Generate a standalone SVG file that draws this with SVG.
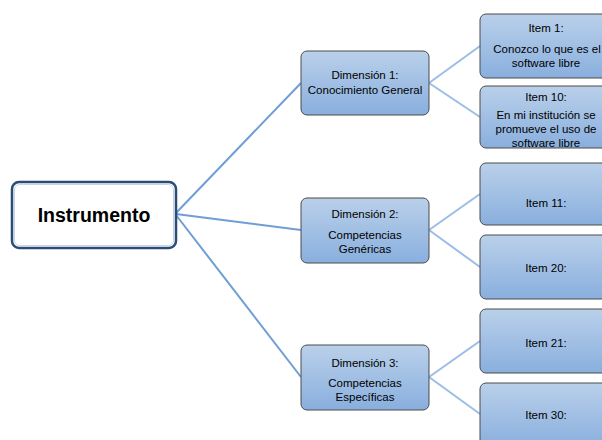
<svg xmlns="http://www.w3.org/2000/svg" width="602" height="440" viewBox="0 0 602 440">
<defs>
<linearGradient id="g" x1="0" y1="0" x2="0" y2="1">
<stop offset="0" stop-color="#bad0ea"/>
<stop offset="1" stop-color="#89afde"/>
</linearGradient>
<style>
.box{fill:url(#g);stroke:#4a4a4a;stroke-width:1}
.t{font-family:"Liberation Sans",Arial,sans-serif;font-size:11.5px;fill:#000;text-anchor:middle}
.c1{stroke:#6f9ed6;stroke-width:2;fill:none}
.c2{stroke:#9bbde6;stroke-width:2;fill:none}
</style>
</defs>
<rect width="602" height="440" fill="#fff"/>
<g id="connectors">
<line class="c1" x1="176" y1="213" x2="301" y2="83"/>
<line class="c1" x1="176" y1="214" x2="301" y2="230"/>
<line class="c1" x1="176" y1="215" x2="301" y2="377"/>
<line class="c2" x1="429" y1="83" x2="480" y2="46"/>
<line class="c2" x1="429" y1="83" x2="480" y2="117"/>
<line class="c2" x1="429" y1="230" x2="480" y2="194"/>
<line class="c2" x1="429" y1="230" x2="480" y2="267"/>
<line class="c2" x1="429" y1="377" x2="480" y2="341"/>
<line class="c2" x1="429" y1="377" x2="480" y2="414"/>
</g>
<g id="instrumento">
<rect x="12" y="182" width="164" height="66" rx="7" fill="#fff" stroke="#2b4c74" stroke-width="2.5"/>
<rect x="14.5" y="184.5" width="159" height="61" rx="5" fill="none" stroke="#b7c9de" stroke-width="0.8"/>
<text x="94" y="222" style="font-family:'Liberation Sans',Arial,sans-serif;font-size:19.5px;font-weight:bold;text-anchor:middle">Instrumento</text>
</g>
<g id="dim1">
<rect class="box" x="301" y="51" width="128" height="64" rx="6"/>
<text class="t" x="365" y="79">Dimensión 1:</text>
<text class="t" x="365" y="94">Conocimiento General</text>
</g>
<g id="dim2">
<rect class="box" x="301" y="198" width="128" height="65" rx="6"/>
<text class="t" x="365" y="218">Dimensión 2:</text>
<text class="t" x="365" y="239">Competencias</text>
<text class="t" x="365" y="253">Genéricas</text>
</g>
<g id="dim3">
<rect class="box" x="301" y="345" width="128" height="65" rx="6"/>
<text class="t" x="365" y="367">Dimensión 3:</text>
<text class="t" x="365" y="387">Competencias</text>
<text class="t" x="365" y="401">Específicas</text>
</g>
<g id="item1">
<rect class="box" x="480" y="14" width="130" height="64" rx="6"/>
<text class="t" x="546" y="32">Item 1:</text>
<text class="t" x="547" y="53">Conozco lo que es el</text>
<text class="t" x="546" y="67">software libre</text>
</g>
<g id="item10">
<rect class="box" x="480" y="86" width="130" height="62" rx="6"/>
<text class="t" x="546" y="101">Item 10:</text>
<text class="t" x="546" y="119">En mi institución se</text>
<text class="t" x="546" y="133">promueve el uso de</text>
<text class="t" x="546" y="147">software libre</text>
</g>
<g id="item11">
<rect class="box" x="480" y="163" width="130" height="62" rx="6"/>
<text class="t" x="546" y="207">Item 11:</text>
</g>
<g id="item20">
<rect class="box" x="480" y="235" width="130" height="64" rx="6"/>
<text class="t" x="546" y="272">Item 20:</text>
</g>
<g id="item21">
<rect class="box" x="480" y="309" width="130" height="64" rx="6"/>
<text class="t" x="546" y="347">Item 21:</text>
</g>
<g id="item30">
<rect class="box" x="480" y="383" width="130" height="64" rx="6"/>
<text class="t" x="546" y="419">Item 30:</text>
</g>
</svg>
